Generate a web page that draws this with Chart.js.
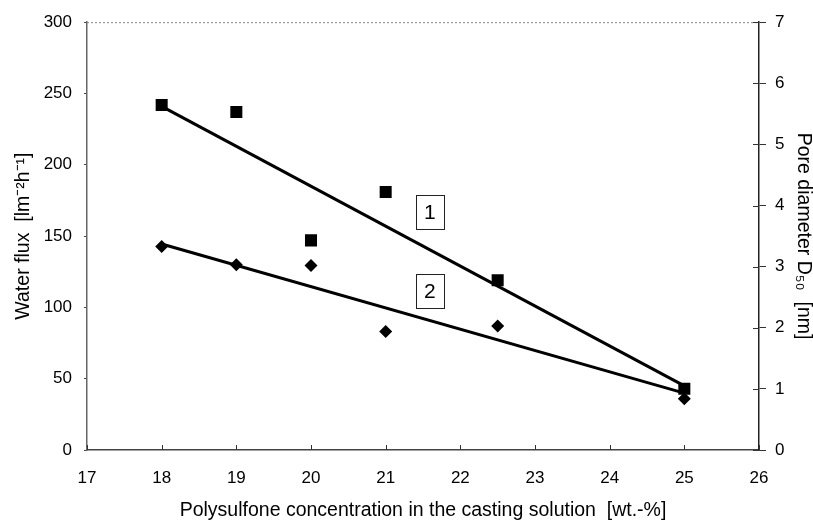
<!DOCTYPE html>
<html>
<head>
<meta charset="utf-8">
<script src="https://cdn.jsdelivr.net/npm/chart.js@4/dist/chart.umd.min.js"></script>
<style>
  html, body { margin: 0; padding: 0; background: #fff; }
  #wrap { width: 813px; height: 520px; }
</style>
</head>
<body>
<div id="wrap"><canvas id="myChart"></canvas></div>
<script>
// polysulfone concentration [wt.-%]
const concentration = [18, 19, 20, 21, 22.5, 25];
// curve 1, squares, left axis
const waterFlux = [242, 237, 147, 181, 119, 43];
// curve 2, diamonds, right axis
const poreDiameter = [3.33, 3.03, 3.02, 1.94, 2.03, 0.84];
// trend line end points
const fluxTrendX = [18, 25];
const fluxTrendY = [241, 45];
const poreTrendX = [18, 25];
const poreTrendY = [3.37, 0.93];
// boxed curve numbers (x, left-axis value)
const curveNames = ['1', '2'];
const curveNameX = [21.59, 21.59];
const curveNameY = [167, 111.5];

const FONT = 'Liberation Sans, Arial, sans-serif';
const TICK_FONT = { family: FONT, size: 17 };
const TITLE_FONT = { family: FONT, size: 19.5, lineHeight: 1 };

function pts(xs, ys) {
  return xs.map((x, i) => ({ x: x, y: ys[i] }));
}

const extras = {
  id: 'extras',
  afterDatasetsDraw(chart) {
    const ctx = chart.ctx;
    const a = chart.chartArea;
    const sx = chart.scales.x, sy = chart.scales.y, sy2 = chart.scales.y2;
    ctx.save();
    // dotted top frame
    ctx.strokeStyle = '#888';
    ctx.lineWidth = 1;
    ctx.setLineDash([2, 2]);
    ctx.beginPath();
    ctx.moveTo(a.left, a.top + 0.5);
    ctx.lineTo(a.right, a.top + 0.5);
    ctx.stroke();
    ctx.setLineDash([]);
    // inner tick parts on right axis
    ctx.strokeStyle = '#333';
    sy2.ticks.forEach(t => {
      const y = Math.round(sy2.getPixelForValue(t.value)) + 0.5;
      ctx.beginPath();
      ctx.moveTo(a.right - 6, y);
      ctx.lineTo(a.right, y);
      ctx.stroke();
    });
    // inner ticks on x axis
    sx.ticks.forEach(t => {
      const x = Math.round(sx.getPixelForValue(t.value)) + 0.5;
      ctx.beginPath();
      ctx.moveTo(x, a.bottom);
      ctx.lineTo(x, a.bottom - 5);
      ctx.stroke();
    });
    // boxed curve numbers
    ctx.font = '21px ' + FONT;
    ctx.textAlign = 'center';
    ctx.textBaseline = 'middle';
    curveNames.forEach((n, i) => {
      const cx = sx.getPixelForValue(curveNameX[i]);
      const cy = sy.getPixelForValue(curveNameY[i]);
      ctx.fillStyle = '#fff';
      ctx.fillRect(cx - 14, cy - 17, 28, 34);
      ctx.strokeStyle = '#222';
      ctx.lineWidth = 1;
      ctx.strokeRect(Math.round(cx - 14) + 0.5, Math.round(cy - 17) + 0.5, 28, 34);
      ctx.fillStyle = '#000';
      ctx.fillText(n, cx, cy + 1);
    });
    ctx.restore();
  }
};

window.onload = function() {
  const ctx = document.getElementById('myChart');

  const data = {
    datasets: [
      {
        label: 'Water flux',
        data: pts(concentration, waterFlux),
        yAxisID: 'y',
        showLine: false,
        pointStyle: 'rect',
        pointRadius: 8.5,
        pointHoverRadius: 8.5,
        backgroundColor: '#000',
        borderColor: '#000',
        borderWidth: 0,
        order: 0
      },
      {
        label: 'Pore diameter',
        data: pts(concentration, poreDiameter),
        yAxisID: 'y2',
        showLine: false,
        pointStyle: 'rectRot',
        pointRadius: 6.5,
        pointHoverRadius: 6.5,
        backgroundColor: '#000',
        borderColor: '#000',
        borderWidth: 0,
        order: 0
      },
      {
        label: 'trend 1',
        data: pts(fluxTrendX, fluxTrendY),
        yAxisID: 'y',
        showLine: true,
        pointRadius: 0,
        borderColor: '#000',
        borderWidth: 3,
        order: 1
      },
      {
        label: 'trend 2',
        data: pts(poreTrendX, poreTrendY),
        yAxisID: 'y2',
        showLine: true,
        pointRadius: 0,
        borderColor: '#000',
        borderWidth: 3,
        order: 1
      }
    ]
  };

  const config = {
    type: 'scatter',
    data: data,
    plugins: [extras],
    options: {
      responsive: true,
      maintainAspectRatio: false,
      animation: false,
      layout: { padding: { top: 21, left: 0, right: 0, bottom: 0 } },
      plugins: {
        legend: { display: false },
        tooltip: { enabled: false }
      },
      scales: {
        x: {
          type: 'linear',
          min: 17,
          max: 26,
          ticks: { stepSize: 1, color: '#000', font: TICK_FONT, padding: 18 },
          grid: { drawOnChartArea: false, drawTicks: false },
          border: { color: '#444', width: 1.5 },
          title: {
            display: true,
            text: 'Polysulfone concentration in the casting solution  [wt.-%]',
            color: '#000',
            font: TITLE_FONT,
            padding: { top: 0, bottom: 0 }
          },
          afterFit(s) { s.height = 70; }
        },
        y: {
          position: 'left',
          min: 0,
          max: 300,
          ticks: { stepSize: 50, color: '#000', font: TICK_FONT, padding: 12 },
          grid: { drawOnChartArea: false, tickLength: 3, tickColor: '#444' },
          border: { color: '#666', width: 1.5 },
          title: {
            display: true,
            text: 'Water flux  [lm\u207B\u00B2h\u207B\u00B9]',
            color: '#000',
            font: TITLE_FONT,
            padding: { top: 14, bottom: 0 }
          },
          afterFit(s) { s.width = 87; }
        },
        y2: {
          position: 'right',
          min: 0,
          max: 7,
          ticks: { stepSize: 1, color: '#000', font: TICK_FONT, padding: 9 },
          grid: { drawOnChartArea: false, tickLength: 7, tickColor: '#333' },
          border: { color: '#222', width: 1.5 },
          title: {
            display: true,
            text: 'Pore diameter D\u2085\u2080  [nm]',
            color: '#000',
            font: TITLE_FONT,
            padding: { top: 0, bottom: 0 }
          },
          afterFit(s) { s.width = 54; }
        }
      }
    }
  };

  new Chart(ctx, config);
};
</script>
</body>
</html>
